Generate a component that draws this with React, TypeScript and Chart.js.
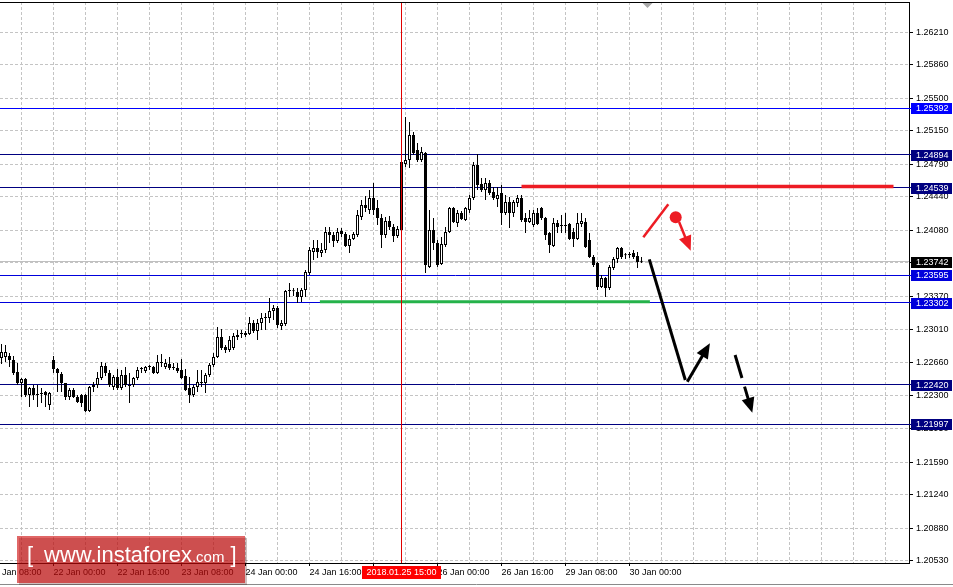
import React, { useEffect, useRef } from 'react';
import { Chart, registerables } from 'chart.js';

Chart.register(...registerables);

// ---- H1 candles (index 0 = 21 Jan 11:00 ... index 160 = 30 Jan 03:00) ----
const opens = [
  1.22708, 1.22719, 1.22729, 1.22686, 1.22557, 1.22439, 1.22482, 1.22310, 1.22386, 1.22321,
  1.22332, 1.22343, 1.22203, 1.22686, 1.22590, 1.22536, 1.22439, 1.22289, 1.22364, 1.22289,
  1.22310, 1.22310, 1.22139, 1.22396, 1.22418, 1.22493, 1.22622, 1.22547, 1.22396, 1.22504,
  1.22386, 1.22525, 1.22418, 1.22418, 1.22493, 1.22590, 1.22568, 1.22611, 1.22611, 1.22547,
  1.22665, 1.22611, 1.22643, 1.22611, 1.22600, 1.22579, 1.22514, 1.22386, 1.22310, 1.22396,
  1.22450, 1.22439, 1.22525, 1.22633, 1.22719, 1.22934, 1.22826, 1.22794, 1.22815, 1.22955,
  1.22966, 1.22976, 1.22966, 1.23084, 1.22998, 1.23084, 1.23138, 1.23138, 1.23213, 1.23245,
  1.23052, 1.23073, 1.23427, 1.23427, 1.23417, 1.23363, 1.23438, 1.23621, 1.23846, 1.23889,
  1.23836, 1.23868, 1.24061, 1.24029, 1.23965, 1.24072, 1.24040, 1.23911, 1.23986, 1.24029,
  1.24222, 1.24351, 1.24298, 1.24427, 1.24319, 1.24212, 1.24029, 1.24179, 1.24115, 1.24018,
  1.24083, 1.24792, 1.24835, 1.25104, 1.24943, 1.24835, 1.24911, 1.23685, 1.24083, 1.23943,
  1.23717, 1.23922, 1.24061, 1.24319, 1.24158, 1.24265, 1.24190, 1.24298, 1.24427, 1.24782,
  1.24578, 1.24513, 1.24588, 1.24492, 1.24416, 1.24481, 1.24265, 1.24384, 1.24265, 1.24373,
  1.24427, 1.24212, 1.24169, 1.24136, 1.24265, 1.24319, 1.24212, 1.24050, 1.23911, 1.24158,
  1.24136, 1.24126, 1.24147, 1.24061, 1.23986, 1.24147, 1.24169, 1.23975, 1.23793, 1.23728,
  1.23470, 1.23567, 1.23460, 1.23674, 1.23771, 1.23889, 1.23814, 1.23814, 1.23836, 1.23803,
  1.23750,
];
const highs = [
  1.22858, 1.22848, 1.22762, 1.22729, 1.22654, 1.22493, 1.22493, 1.22396, 1.22418, 1.22418,
  1.22386, 1.22353, 1.22343, 1.22729, 1.22600, 1.22557, 1.22439, 1.22386, 1.22386, 1.22310,
  1.22321, 1.22321, 1.22407, 1.22450, 1.22557, 1.22665, 1.22654, 1.22579, 1.22525, 1.22590,
  1.22579, 1.22611, 1.22547, 1.22504, 1.22611, 1.22611, 1.22622, 1.22633, 1.22622, 1.22740,
  1.22751, 1.22697, 1.22719, 1.22654, 1.22654, 1.22697, 1.22590, 1.22504, 1.22418, 1.22579,
  1.22579, 1.22547, 1.22654, 1.22762, 1.23041, 1.23019, 1.22848, 1.22944, 1.22976, 1.23009,
  1.23009, 1.22998, 1.23148, 1.23116, 1.23127, 1.23191, 1.23191, 1.23352, 1.23277, 1.23267,
  1.23116, 1.23438, 1.23513, 1.23460, 1.23460, 1.23460, 1.23653, 1.23900, 1.23975, 1.23975,
  1.23943, 1.24115, 1.24115, 1.24061, 1.24104, 1.24104, 1.24061, 1.24029, 1.24061, 1.24298,
  1.24405, 1.24449, 1.24513, 1.24588, 1.24405, 1.24255, 1.24222, 1.24233, 1.24147, 1.24126,
  1.24857, 1.25297, 1.25244, 1.25136, 1.25018, 1.24975, 1.24921, 1.24298, 1.24212, 1.23975,
  1.24008, 1.24115, 1.24330, 1.24330, 1.24298, 1.24287, 1.24330, 1.24459, 1.24814, 1.24900,
  1.24642, 1.24642, 1.24621, 1.24545, 1.24545, 1.24567, 1.24459, 1.24438, 1.24405, 1.24459,
  1.24459, 1.24265, 1.24298, 1.24298, 1.24319, 1.24330, 1.24222, 1.24061, 1.24212, 1.24190,
  1.24244, 1.24265, 1.24158, 1.24104, 1.24265, 1.24265, 1.24212, 1.24050, 1.23814, 1.23739,
  1.23599, 1.23578, 1.23707, 1.23793, 1.23900, 1.23900, 1.23836, 1.23846, 1.23868, 1.23846,
  1.23793,
];
const lows = [
  1.22643, 1.22665, 1.22611, 1.22525, 1.22418, 1.22289, 1.22289, 1.22182, 1.22257, 1.22182,
  1.22225, 1.22182, 1.22150, 1.22547, 1.22343, 1.22343, 1.22257, 1.22257, 1.22278, 1.22225,
  1.22182, 1.22128, 1.22128, 1.22343, 1.22386, 1.22472, 1.22514, 1.22396, 1.22364, 1.22364,
  1.22364, 1.22396, 1.22225, 1.22396, 1.22472, 1.22547, 1.22547, 1.22579, 1.22536, 1.22536,
  1.22611, 1.22590, 1.22579, 1.22579, 1.22547, 1.22482, 1.22353, 1.22225, 1.22289, 1.22343,
  1.22396, 1.22332, 1.22504, 1.22611, 1.22708, 1.22794, 1.22762, 1.22772, 1.22794, 1.22901,
  1.22923, 1.22934, 1.22955, 1.22976, 1.22901, 1.23009, 1.23009, 1.23084, 1.23116, 1.23030,
  1.23009, 1.23052, 1.23363, 1.23374, 1.23299, 1.23310, 1.23363, 1.23599, 1.23760, 1.23782,
  1.23793, 1.23836, 1.23943, 1.23900, 1.23943, 1.24008, 1.23900, 1.23836, 1.23975, 1.24008,
  1.24190, 1.24276, 1.24255, 1.24244, 1.24136, 1.23889, 1.23997, 1.24083, 1.23954, 1.23997,
  1.24018, 1.24760, 1.24749, 1.24889, 1.24814, 1.24814, 1.23621, 1.23674, 1.23868, 1.23685,
  1.23707, 1.23900, 1.24050, 1.24158, 1.24115, 1.24190, 1.24179, 1.24265, 1.24405, 1.24513,
  1.24492, 1.24405, 1.24459, 1.24405, 1.24330, 1.24136, 1.24244, 1.24104, 1.24222, 1.24330,
  1.24169, 1.24050, 1.24158, 1.24115, 1.24136, 1.24190, 1.23975, 1.23836, 1.23900, 1.24050,
  1.24050, 1.24050, 1.23975, 1.23900, 1.23975, 1.24115, 1.23889, 1.23782, 1.23685, 1.23438,
  1.23460, 1.23363, 1.23438, 1.23653, 1.23728, 1.23771, 1.23771, 1.23782, 1.23771, 1.23674,
  1.23728,
];
const closes = [
  1.22772, 1.22772, 1.22686, 1.22547, 1.22439, 1.22482, 1.22310, 1.22386, 1.22310, 1.22310,
  1.22321, 1.22310, 1.22332, 1.22590, 1.22547, 1.22439, 1.22289, 1.22364, 1.22289, 1.22236,
  1.22225, 1.22139, 1.22396, 1.22418, 1.22493, 1.22622, 1.22547, 1.22418, 1.22504, 1.22386,
  1.22525, 1.22418, 1.22407, 1.22493, 1.22579, 1.22592, 1.22611, 1.22613, 1.22547, 1.22665,
  1.22654, 1.22654, 1.22600, 1.22600, 1.22568, 1.22493, 1.22364, 1.22310, 1.22396, 1.22450,
  1.22439, 1.22525, 1.22633, 1.22719, 1.22934, 1.22815, 1.22794, 1.22901, 1.22944, 1.22934,
  1.22968, 1.22955, 1.23084, 1.22998, 1.23084, 1.23138, 1.23148, 1.23213, 1.23245, 1.23062,
  1.23084, 1.23427, 1.23438, 1.23425, 1.23363, 1.23438, 1.23631, 1.23868, 1.23889, 1.23846,
  1.23868, 1.24061, 1.24029, 1.23965, 1.24061, 1.24040, 1.23911, 1.23986, 1.24040, 1.24244,
  1.24351, 1.24319, 1.24427, 1.24298, 1.24212, 1.24029, 1.24179, 1.24115, 1.24018, 1.24093,
  1.24814, 1.24835, 1.25104, 1.24911, 1.24835, 1.24921, 1.23707, 1.24083, 1.23943, 1.23707,
  1.23932, 1.24061, 1.24319, 1.24169, 1.24265, 1.24201, 1.24319, 1.24427, 1.24782, 1.24567,
  1.24513, 1.24588, 1.24481, 1.24427, 1.24459, 1.24265, 1.24384, 1.24265, 1.24384, 1.24427,
  1.24190, 1.24169, 1.24212, 1.24265, 1.24147, 1.24212, 1.24029, 1.23922, 1.24158, 1.24115,
  1.24126, 1.24136, 1.23986, 1.23986, 1.24158, 1.24179, 1.23900, 1.23793, 1.23707, 1.23470,
  1.23567, 1.23460, 1.23685, 1.23771, 1.23889, 1.23793, 1.23812, 1.23816, 1.23793, 1.23739,
  1.23742,
];

// ---- axes ----
const yTickValues = [
  1.2621, 1.2586, 1.255, 1.2515, 1.2479, 1.2444, 1.2408, 1.2373, 1.2337,
  1.2301, 1.2266, 1.223, 1.2195, 1.2159, 1.2124, 1.2088, 1.2053,
];
const xLabelIndex = [-3, 13, 29, 45, 61, 77, 93, 109, 125, 141, 157];
const xLabelText = [
  '21 Jan 08:00', '22 Jan 00:00', '22 Jan 16:00', '23 Jan 08:00', '24 Jan 00:00',
  '24 Jan 16:00', '25 Jan 08:00', '26 Jan 00:00', '26 Jan 16:00', '29 Jan 08:00', '30 Jan 00:00',
];
const xGridStart = -3;
const xGridStep = 8;
const xMin = -0.375;
const xMax = 226.875;
const yMin = 1.205057;
const yMax = 1.265325;

// ---- horizontal levels with price labels ----
const levelPrices = [1.25392, 1.24894, 1.24539, 1.23595, 1.23302, 1.2242, 1.21997];
const levelColors = ['#0000ff', '#000080', '#000080', '#0000dc', '#0000dc', '#000080', '#000080'];
const bidPrice = 1.23742;

// ---- vertical marker ----
const crossIndex = 100;
const crossLabel = '2018.01.25 15:00';
const shiftIndex = 161.5;

// ---- drawn analysis objects (candle index / price) ----
const resistanceX = [130, 223];
const resistancePrice = 1.2455;
const supportX = [79.6, 162.1];
const supportPrice = 1.23313;
const redSlashX = [160.45, 166.7];
const redSlashY = [1.24005, 1.24359];
const redDot = [168.55, 1.24219];
const redArrowX = [169.4, 172.3];
const redArrowY = [1.24169, 1.2386];
const dropLineX = [161.95, 170.95];
const dropLineY = [1.23768, 1.22472];
const upArrowX = [171.45, 177.1];
const upArrowY = [1.22454, 1.22866];
const dashArrowX = [183.4, 187.7];
const dashArrowY = [1.2274, 1.22121];

const FONT = "'Liberation Sans', Arial, sans-serif";
const RED = '#ed1c24';

function drawArrow(ctx: CanvasRenderingContext2D, x1: number, y1: number, x2: number, y2: number,
  color: string, width: number, head: boolean, dash?: number[]) {
  const dx = x2 - x1, dy = y2 - y1;
  const len = Math.hypot(dx, dy);
  const ux = dx / len, uy = dy / len;
  const hl = head ? 15 : 0;
  const hw = 6.5;
  ctx.save();
  ctx.strokeStyle = color;
  ctx.fillStyle = color;
  ctx.lineWidth = width;
  ctx.lineCap = 'butt';
  ctx.setLineDash(dash || []);
  ctx.beginPath();
  ctx.moveTo(x1, y1);
  ctx.lineTo(x2 - ux * hl * 0.7, y2 - uy * hl * 0.7);
  ctx.stroke();
  ctx.setLineDash([]);
  if (head) {
    ctx.beginPath();
    ctx.moveTo(x2, y2);
    ctx.lineTo(x2 - ux * hl - uy * hw, y2 - uy * hl + ux * hw);
    ctx.lineTo(x2 - ux * hl + uy * hw, y2 - uy * hl - ux * hw);
    ctx.closePath();
    ctx.fill();
  }
  ctx.restore();
}

const al = (p: number) => Math.round(p - 0.5) + 0.5;

const overlayPlugin = {
  id: 'mtOverlay',
  beforeDatasetsDraw(chart: any) {
    const { ctx, chartArea: a, scales } = chart;
    const xs = scales.x, ys = scales.y;
    ctx.save();
    // bid line
    ctx.lineWidth = 1;
    ctx.strokeStyle = '#c0c0c0';
    let py = al(ys.getPixelForValue(bidPrice));
    ctx.beginPath(); ctx.moveTo(a.left, py); ctx.lineTo(a.right, py); ctx.stroke();
    // level lines
    levelPrices.forEach((v, k) => {
      const p = al(ys.getPixelForValue(v));
      ctx.strokeStyle = levelColors[k];
      ctx.beginPath(); ctx.moveTo(a.left, p); ctx.lineTo(a.right + 2, p); ctx.stroke();
    });
    // thick support / resistance lines
    ctx.lineWidth = 3.5;
    ctx.strokeStyle = RED;
    py = ys.getPixelForValue(resistancePrice);
    ctx.beginPath();
    ctx.moveTo(xs.getPixelForValue(resistanceX[0]), py);
    ctx.lineTo(xs.getPixelForValue(resistanceX[1]), py);
    ctx.stroke();
    ctx.lineWidth = 3;
    ctx.strokeStyle = '#25b24a';
    py = ys.getPixelForValue(supportPrice);
    ctx.beginPath();
    ctx.moveTo(xs.getPixelForValue(supportX[0]), py);
    ctx.lineTo(xs.getPixelForValue(supportX[1]), py);
    ctx.stroke();
    ctx.restore();
  },
  afterDatasetsDraw(chart: any) {
    const { ctx, chartArea: a, scales } = chart;
    const xs = scales.x, ys = scales.y;
    const X = (v: number) => xs.getPixelForValue(v);
    const Y = (v: number) => ys.getPixelForValue(v);
    ctx.save();
    // vertical red marker line
    const cx = al(X(crossIndex));
    ctx.strokeStyle = '#e00000';
    ctx.lineWidth = 1;
    ctx.beginPath(); ctx.moveTo(cx, a.top); ctx.lineTo(cx, a.bottom); ctx.stroke();
    // forecast drawings
    drawArrow(ctx, X(redSlashX[0]), Y(redSlashY[0]), X(redSlashX[1]), Y(redSlashY[1]), RED, 2.5, false);
    drawArrow(ctx, X(redArrowX[0]), Y(redArrowY[0]), X(redArrowX[1]), Y(redArrowY[1]), RED, 2.5, true);
    ctx.fillStyle = RED;
    ctx.beginPath(); ctx.arc(X(redDot[0]), Y(redDot[1]), 6, 0, Math.PI * 2); ctx.fill();
    drawArrow(ctx, X(dropLineX[0]), Y(dropLineY[0]), X(dropLineX[1]), Y(dropLineY[1]), '#000', 3, false);
    drawArrow(ctx, X(upArrowX[0]), Y(upArrowY[0]), X(upArrowX[1]), Y(upArrowY[1]), '#000', 3, true);
    drawArrow(ctx, X(dashArrowX[0]), Y(dashArrowY[0]), X(dashArrowX[1]), Y(dashArrowY[1]), '#000', 3, true, [24, 9]);
    ctx.restore();
  },
  afterDraw(chart: any) {
    const { ctx, chartArea: a, scales, width: W } = chart;
    const xs = scales.x, ys = scales.y;
    ctx.save();
    // top frame line
    ctx.strokeStyle = '#000';
    ctx.lineWidth = 1;
    ctx.beginPath(); ctx.moveTo(a.left, a.top + 0.5); ctx.lineTo(a.right + 1, a.top + 0.5); ctx.stroke();
    // chart shift marker
    const sx = xs.getPixelForValue(shiftIndex);
    ctx.fillStyle = '#a8a8a8';
    ctx.beginPath(); ctx.moveTo(sx - 5, a.top + 1); ctx.lineTo(sx + 5, a.top + 1); ctx.lineTo(sx, a.top + 6); ctx.closePath(); ctx.fill();
    // price labels on the right axis
    ctx.font = `9px ${FONT}`;
    ctx.textBaseline = 'middle';
    ctx.textAlign = 'left';
    const boxL = a.right + 2;
    const boxW = W - boxL - 1;
    const drawBox = (v: number, color: string) => {
      const p = Math.round(ys.getPixelForValue(v));
      ctx.fillStyle = color;
      ctx.fillRect(boxL, p - 5, boxW, 11);
      ctx.fillStyle = '#fff';
      ctx.fillText(v.toFixed(5), a.right + 7, p + 0.5);
    };
    levelPrices.forEach((v, k) => drawBox(v, levelColors[k]));
    drawBox(bidPrice, '#000');
    // date label of the vertical marker
    const cx = xs.getPixelForValue(crossIndex);
    ctx.fillStyle = '#ff0000';
    ctx.fillRect(Math.round(cx - 39.5), a.bottom + 3, 79, 13);
    ctx.fillStyle = '#fff';
    ctx.textAlign = 'center';
    ctx.fillText(crossLabel, cx, a.bottom + 10);
    // window bottom edge
    ctx.strokeStyle = '#8a8a8a';
    ctx.beginPath(); ctx.moveTo(0, 584.5); ctx.lineTo(W, 584.5); ctx.stroke();
    // watermark
    ctx.fillStyle = 'rgba(60,0,0,0.25)';
    ctx.fillRect(19, 538, 228, 47);
    ctx.fillStyle = 'rgba(205,10,10,0.62)';
    ctx.fillRect(17, 536, 228, 47);
    ctx.fillStyle = '#ffffff';
    ctx.textAlign = 'left';
    ctx.textBaseline = 'alphabetic';
    ctx.font = `22px ${FONT}`;
    ctx.fillText('[', 27, 562);
    ctx.fillText('www.instaforex', 44, 562);
    const w1 = ctx.measureText('www.instaforex').width;
    ctx.font = `15px ${FONT}`;
    ctx.fillText('.com', 44 + w1, 562);
    const w2 = ctx.measureText('.com').width;
    ctx.font = `22px ${FONT}`;
    ctx.fillText(']', 44 + w1 + w2 + 6, 562);
    ctx.restore();
  },
};

export default function App() {
  const ref = useRef<HTMLCanvasElement | null>(null);
  useEffect(() => {
    if (!ref.current) return;
    Chart.defaults.font.family = FONT;
    const idx = closes.map((_, i) => i);
    const chart = new Chart(ref.current, {
      type: 'bar',
      data: {
        datasets: [
          {
            label: 'wicks',
            data: idx.map((i) => ({ x: i, y: [lows[i], highs[i]] })) as any,
            backgroundColor: '#000',
            borderWidth: 0,
            barThickness: 1,
            grouped: false,
            inflateAmount: 0,
            minBarLength: 1,
            order: 2,
          } as any,
          {
            label: 'bodies',
            data: idx.map((i) => ({ x: i, y: [opens[i], closes[i]] })) as any,
            backgroundColor: idx.map((i) => (closes[i] >= opens[i] ? '#ffffff' : '#000000')),
            borderColor: '#000',
            borderWidth: 1,
            borderSkipped: false,
            barThickness: 3,
            grouped: false,
            inflateAmount: 0,
            minBarLength: 1,
            order: 1,
          } as any,
        ],
      },
      options: {
        responsive: false,
        animation: false,
        devicePixelRatio: 1,
        events: [],
        layout: { padding: { top: 2, left: 0, right: 0, bottom: 0 } },
        plugins: { legend: { display: false }, tooltip: { enabled: false } },
        scales: {
          x: {
            type: 'linear',
            min: xMin,
            max: xMax,
            offset: false,
            bounds: 'data',
            afterBuildTicks: (s: any) => {
              const t = [];
              for (let v = xGridStart; v <= xMax; v += xGridStep) t.push({ value: v });
              s.ticks = t;
            },
            afterFit: (s: any) => {
              s.height = 24;
              s.paddingLeft = 0;
              s.paddingRight = 0;
            },
            ticks: {
              autoSkip: false,
              maxRotation: 0,
              minRotation: 0,
              align: 'start',
              padding: 1,
              color: '#000',
              font: { size: 9, family: FONT },
              callback: (v: any) => {
                const k = xLabelIndex.indexOf(Number(v));
                return k >= 0 ? xLabelText[k] : '';
              },
            },
            grid: {
              offset: false,
              color: '#c4c4c4',
              lineWidth: 1,
              tickLength: 3,
              tickColor: (c: any) =>
                c.tick && xLabelIndex.indexOf(c.tick.value) >= 0 ? '#000' : 'rgba(0,0,0,0)',
            },
            border: { display: true, color: '#000', width: 1, dash: [3, 2] },
          } as any,
          y: {
            type: 'linear',
            position: 'right',
            min: yMin,
            max: yMax,
            bounds: 'data',
            beginAtZero: false,
            afterBuildTicks: (s: any) => {
              s.ticks = yTickValues.map((v) => ({ value: v }));
            },
            afterFit: (s: any) => {
              s.width = 44;
              s.paddingTop = 0;
              s.paddingBottom = 0;
            },
            ticks: {
              padding: 3,
              color: '#000',
              font: { size: 9, family: FONT },
              callback: (v: any) => Number(v).toFixed(5),
            },
            grid: { color: '#c4c4c4', lineWidth: 1, tickLength: 4, tickColor: '#000' },
            border: { display: true, color: '#000', width: 1, dash: [3, 2] },
          } as any,
        },
      },
      plugins: [overlayPlugin],
    });
    return () => chart.destroy();
  }, []);
  return (
    <div style={{ position: 'fixed', left: 0, top: 0, width: 953, height: 587, background: '#fff' }}>
      <canvas ref={ref} width={953} height={587} style={{ width: 953, height: 587, display: 'block' }} />
    </div>
  );
}
